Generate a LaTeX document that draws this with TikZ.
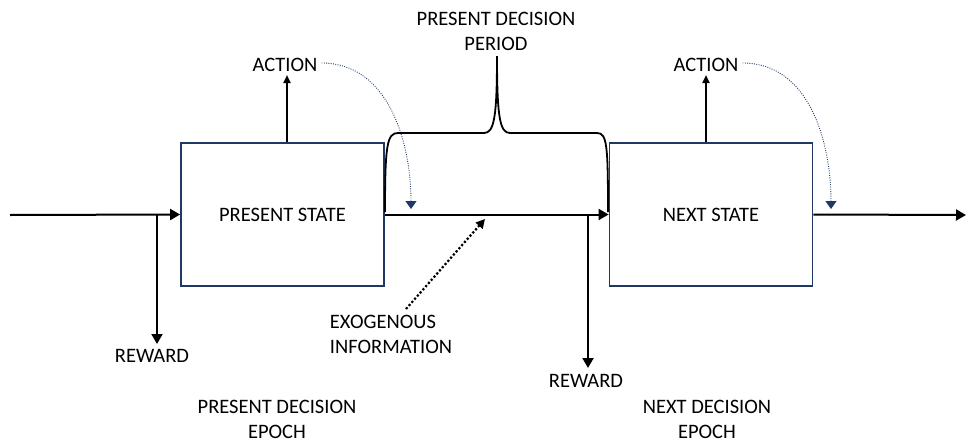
\documentclass[tikz,border=0pt]{standalone}
\usepackage{fontspec}
\setmainfont{Carlito}
\usetikzlibrary{arrows.meta,positioning}
\definecolor{boxblue}{HTML}{1F3864}
\begin{document}
\begin{tikzpicture}[x=1pt,y=-1pt,font=\fontsize{20.5}{25}\selectfont,
  statebox/.style={draw=boxblue, line width=1.8pt, minimum width=203pt, minimum height=143pt, inner sep=0pt},
  flow/.style={line width=2pt, -{Triangle[length=10pt,width=11pt]}},
  upflow/.style={line width=2pt, -{Triangle[length=8pt,width=7pt]}},
  dotflow/.style={boxblue, line width=0.9pt, dash pattern=on 0.9pt off 1.4pt, -{Triangle[length=8pt,width=11pt]}},
  exoflow/.style={line width=2.2pt, dash pattern=on 2.2pt off 2pt, -{Triangle[length=9pt,width=9pt]}},
  lbl/.style={align=center, inner sep=0pt}]
\useasboundingbox (0,0) rectangle (967,442);
% states
\node[statebox] (present) at (282.5,214.5){PRESENT STATE};
\node[statebox] (next) at (711,214.5){NEXT STATE};
% main flow
\coordinate (start) at (10,215);
\coordinate (finish) at (966,215);
\draw[flow](start) -- (present.west);
\draw[flow](present.east) -- (next.west);
\draw[flow](next.east) -- (finish);
% rewards
\coordinate (rw1) at (157,215);
\node[lbl] (reward1) at (152,356){REWARD};
\draw[flow](rw1) -- (157,344);
\coordinate (rw2) at (588,215);
\node[lbl] (reward2) at (586,381){REWARD};
\draw[flow](rw2) -- (588,368);
% actions
\node[lbl] (action1) at (285,65){ACTION};
\draw[upflow](present.north -| 287,0) -- (287,75);
\node[lbl] (action2) at (706,65){ACTION};
\draw[upflow](next.north -| 706,0) -- (706,75);
\coordinate (act1end) at (411,209);
\draw[dotflow](action1.east) ++(4,-2) to[out=0,in=90] (act1end);
\coordinate (act2end) at (831,209);
\draw[dotflow](action2.east) ++(4,-2) to[out=0,in=90] (act2end);
% decision period brace
\node[lbl] (period) at (496,31){PRESENT DECISION\\PERIOD};
\draw[line width=1.8pt](385,212) .. controls (385,145) and (387,133) .. (398,133) -- (484,133)
  .. controls (494,133) and (497,118) .. (497,56) .. controls (497,118) and (500,133) .. (510,133)
  -- (597,133) .. controls (607,133) and (608,145) .. (608,212);
% exogenous information
\node[lbl, align=left] (exo) at (391,334){EXOGENOUS\\INFORMATION};
\coordinate (exoend) at (485,219);
\draw[exoflow](406,309) -- (exoend);
% epochs
\node[lbl] (epoch1) at (277,419){PRESENT DECISION\\EPOCH};
\node[lbl] (epoch2) at (707,419){NEXT DECISION\\EPOCH};
\end{tikzpicture}
\end{document}
